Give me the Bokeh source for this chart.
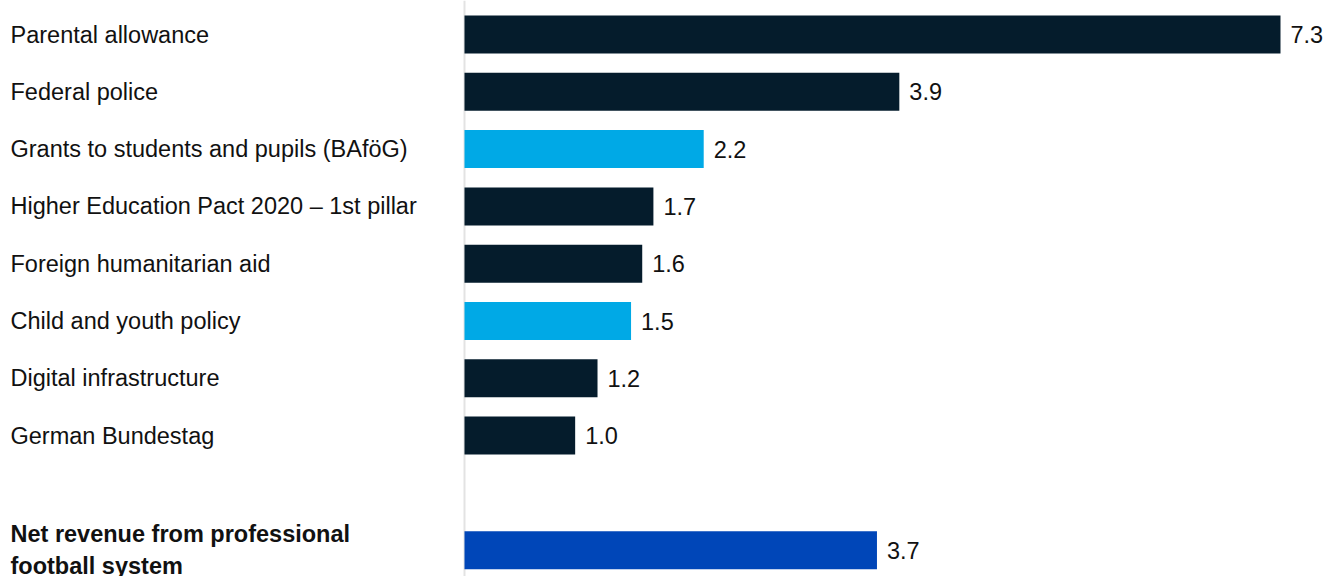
from bokeh.plotting import figure
from bokeh.models import ColumnDataSource, Range1d, Span
from bokeh.core.properties import value
from bokeh.embed import file_html
from bokeh.resources import INLINE

# Data
categories = [
    "Parental allowance",
    "Federal police",
    "Grants to students and pupils (BAföG)",
    "Higher Education Pact 2020 \u2013 1st pillar",
    "Foreign humanitarian aid",
    "Child and youth policy",
    "Digital infrastructure",
    "German Bundestag",
]
# bar lengths (labels show the rounded figures)
values = [7.30, 3.89, 2.14, 1.69, 1.59, 1.49, 1.19, 0.99]
value_labels = ["7.3", "3.9", "2.2", "1.7", "1.6", "1.5", "1.2", "1.0"]
highlight = [False, False, True, False, False, True, False, False]

total_label = "Net revenue from professional\nfootball system"
total_value = 3.69
total_value_label = "3.7"

DARK = "#051C2C"
CYAN = "#00A9E6"
BLUE = "#0046B8"
TEXT = "#111111"
FONT = "Liberation Sans"

W, H = 1323, 576
unit_x = 111.78
unit_y = 57.3
left_px = 464
top_px = 34

x_start = -left_px / unit_x
x_end = x_start + W / unit_x
y_top = -top_px / unit_y
y_bottom = y_top + H / unit_y

p = figure(width=W, height=H, output_backend="svg", toolbar_location=None,
           x_range=Range1d(x_start, x_end), y_range=Range1d(y_bottom, y_top),
           min_border=0, min_border_left=0, min_border_right=0,
           min_border_top=0, min_border_bottom=0)
p.axis.visible = False
p.grid.visible = False
p.outline_line_color = None
p.background_fill_color = "white"
p.border_fill_color = "white"

n = len(categories)
ys = list(range(n))
colors = [CYAN if h else DARK for h in highlight]
src = ColumnDataSource(dict(y=ys, v=values, c=colors, cat=categories,
                            lab=value_labels, x0=[x_start] * n))

total_y = n + 1
tsrc = ColumnDataSource(dict(y=[total_y], v=[total_value], cat=[total_label],
                             lab=[total_value_label], x0=[x_start]))

p.add_layout(Span(location=0, dimension="height", line_color="#E3E3E3",
                  line_width=2, level="underlay"))

bar_h = 38 / unit_y
p.hbar(y="y", right="v", left=0, height=bar_h, color="c", source=src, line_color=None)
p.hbar(y="y", right="v", left=0, height=bar_h, color=BLUE, source=tsrc, line_color=None)

common = dict(text_font=value(FONT), text_font_size="23.5px", text_color=TEXT,
              text_baseline="middle")
p.text(x="v", y="y", text="lab", x_offset=10, text_align="left", source=src, **common)
p.text(x="v", y="y", text="lab", x_offset=10, text_align="left", source=tsrc, **common)
p.text(x="x0", y="y", text="cat", x_offset=10, text_align="left", source=src, **common)
p.text(x="x0", y="y", text="cat", x_offset=10, y_offset=0, text_align="left",
       text_font_style="bold", text_line_height=1.22, source=tsrc, **common)

open("out.html", "w").write(file_html(p, INLINE))
